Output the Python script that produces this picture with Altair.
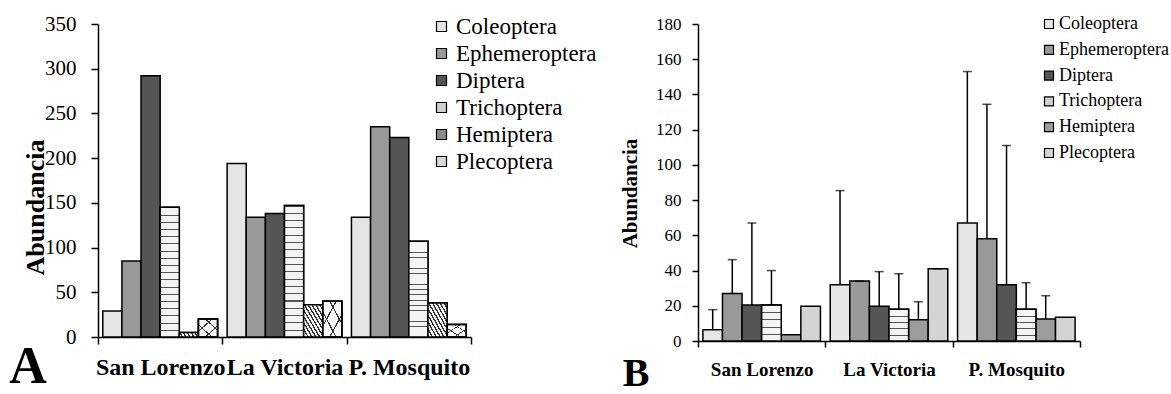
import altair as alt
import pandas as pd

sites = ["San Lorenzo", "La Victoria", "P. Mosquito"]
orders = ["Coleoptera", "Ephemeroptera", "Diptera", "Trichoptera", "Hemiptera", "Plecoptera"]

# A: total abundance per site, in the order of `orders`
total_san_lorenzo = [29, 85, 292, 145, 5, 20]
total_la_victoria = [194, 134, 138, 147, 36, 40]
total_p_mosquito = [134, 235, 223, 107, 38, 14]

# B: mean abundance and standard deviation per site (None = no error bar)
mean_san_lorenzo = [6.4, 27, 20.5, 20.5, 3.5, 19.7]
mean_la_victoria = [32, 34, 19.7, 18, 12, 41]
mean_p_mosquito = [67, 58, 32, 18, 12.5, 13.5]
sd_san_lorenzo = [11.4, 19.2, 46.5, 19.5, None, None]
sd_la_victoria = [53.4, 0, 19.7, 20.2, 10.3, 0]
sd_p_mosquito = [86, 76.4, 79, 15.1, 13.2, None]

rows_a = []
for site, vals in zip(sites, [total_san_lorenzo, total_la_victoria, total_p_mosquito]):
    for order, v in zip(orders, vals):
        rows_a.append({"site": site, "order": order, "total": v})
df_a = pd.DataFrame(rows_a)

rows_b = []
for site, means, sds in zip(
    sites,
    [mean_san_lorenzo, mean_la_victoria, mean_p_mosquito],
    [sd_san_lorenzo, sd_la_victoria, sd_p_mosquito],
):
    for order, m, s in zip(orders, means, sds):
        rows_b.append({"site": site, "order": order, "mean": m, "sd": s})
df_b = pd.DataFrame(rows_b)

SERIF = "'Liberation Serif', 'Times New Roman', 'DejaVu Serif', serif"


def stripe_fill(n, frac, line, bg, x1, y1, x2, y2):
    """Hard-stop linear gradient that reads as a hatch of n lines."""
    stops = []
    for k in range(n):
        a = k / n
        b = (k + frac) / n
        c = (k + 1) / n
        stops += [
            alt.GradientStop(color=line, offset=a),
            alt.GradientStop(color=line, offset=b),
            alt.GradientStop(color=bg, offset=b),
            alt.GradientStop(color=bg, offset=c),
        ]
    return alt.LinearGradient(gradient="linear", stops=stops, x1=x1, y1=y1, x2=x2, y2=y2)


CLEAR = "rgba(255,255,255,0)"


def panel(df, value_field, y_max, y_step, width, height, greys, sizes, legend_pos,
          letter, letter_pos, title_pos, brick_lines, hatch):
    x_enc = alt.X(
        "site:N",
        sort=sites,
        scale=alt.Scale(domain=sites, paddingInner=0, paddingOuter=0),
        axis=alt.Axis(
            title=None, labelAngle=0, tickBand="extent", tickSize=sizes["tick"],
            tickWidth=1.5, tickColor="black", domainColor="black", domainWidth=1.5,
            labelFont=SERIF, labelFontWeight="bold", labelFontSize=sizes["xlab"],
            labelColor="black", labelPadding=sizes["xpad"], labelOverlap=False,
        ),
    )
    off_enc = alt.XOffset(
        "order:N", sort=orders,
        scale=alt.Scale(domain=orders, paddingInner=0, paddingOuter=0.25),
    )
    y_axis = alt.Axis(
        title="Abundancia", values=list(range(0, y_max + 1, y_step)), grid=False,
        tickSize=sizes["tick"], tickWidth=1.5, tickColor="black",
        domainColor="black", domainWidth=1.5, labelOverlap=False, labelFlush=False,
        labelFont=SERIF, labelFontSize=sizes["ylab"], labelColor="black",
        labelPadding=sizes["ypad"],
        titleFont=SERIF, titleFontWeight="bold", titleFontSize=sizes["title"],
        titleColor="black", titleX=title_pos[0], titleY=title_pos[1],
        titleAlign="center", titleBaseline="alphabetic", titleAngle=270,
    )
    y_scale = alt.Scale(domain=[0, y_max], nice=False, zero=True)

    def y_of(field):
        return alt.Y(f"{field}:Q", scale=y_scale, axis=y_axis)

    base = alt.Chart(df).encode(x=x_enc, xOffset=off_enc, y=y_of(value_field))

    bars = base.mark_bar(stroke="black", strokeWidth=1.5).encode(
        color=alt.Color(
            "order:N",
            scale=alt.Scale(domain=orders, range=greys),
            legend=alt.Legend(
                title=None, orient="none", legendX=legend_pos[0], legendY=legend_pos[1],
                direction="vertical", symbolType="square", symbolSize=sizes["sym"],
                symbolStrokeColor="black", symbolStrokeWidth=1.2, symbolOpacity=1,
                labelFont=SERIF, labelFontSize=sizes["leg"], labelColor="black",
                labelOffset=sizes["legoff"], rowPadding=sizes["rowpad"], padding=0,
                labelLimit=300,
            ),
        )
    )

    layers = [bars]

    # brick-like horizontal lines on Trichoptera
    layers.append(
        base.transform_filter(alt.datum.order == "Trichoptera").mark_bar(
            stroke="black", strokeWidth=1.5,
            fill=stripe_fill(brick_lines, 0.14, "#555555", "#f4f4f4", 0, 0, 0, 1),
        )
    )
    if hatch:
        # diagonal hatch on Hemiptera, cross hatch on Plecoptera
        layers.append(
            base.transform_filter(alt.datum.order == "Hemiptera").mark_bar(
                stroke="black", strokeWidth=1.5,
                fill=stripe_fill(10, 0.4, "#333333", "#f4f4f4", 0, 1, 1, 0),
            )
        )
        layers.append(
            base.transform_filter(alt.datum.order == "Plecoptera").mark_bar(
                stroke="black", strokeWidth=1.5,
                fill=stripe_fill(3, 0.1, "#333333", "#f8f8f8", 0, 1, 1, 0),
            )
        )
        layers.append(
            base.transform_filter(alt.datum.order == "Plecoptera").mark_bar(
                stroke="black", strokeWidth=1.5,
                fill=stripe_fill(3, 0.1, "#333333", CLEAR, 0, 0, 1, 1),
            )
        )

    if value_field == "mean":
        err = base.transform_filter("isValid(datum.sd)").transform_calculate(
            upper="datum.mean + datum.sd"
        )
        layers.append(
            err.mark_rule(color="black", strokeWidth=1.5).encode(y2="upper:Q")
        )
        layers.append(
            err.mark_tick(color="black", thickness=1.5, size=9).encode(y=y_of("upper"))
        )

    layers.append(
        alt.Chart(pd.DataFrame({"t": [letter]})).mark_text(
            font=SERIF, fontWeight="bold", fontSize=sizes["letter"], color="black",
            align="center", baseline="alphabetic",
        ).encode(text="t:N", x=alt.value(letter_pos[0]), y=alt.value(letter_pos[1]))
    )

    return alt.layer(*layers).properties(width=width, height=height)


chart_a = panel(
    df_a, "total", 350, 50, 373, 313,
    greys=["#e4e4e4", "#999999", "#555555", "#d0d0d0", "#8a8a8a", "#d8d8d8"],
    sizes=dict(tick=7, xlab=24, xpad=11, ylab=21, ypad=15, title=26, sym=100,
               leg=23, legoff=3, rowpad=3.0, letter=52),
    legend_pos=(332, -9), letter="A", letter_pos=(-70, 359), title_pos=(-55, 183),
    brick_lines=18, hatch=True,
)

chart_b = panel(
    df_b, "mean", 180, 20, 382, 317,
    greys=["#e6e6e6", "#999999", "#555555", "#d0d0d0", "#9c9c9c", "#d4d4d4"],
    sizes=dict(tick=6, xlab=19, xpad=13, ylab=17, ypad=11, title=21, sym=81,
               leg=18, legoff=1, rowpad=7.8, letter=40),
    legend_pos=(342, -9), letter="B", letter_pos=(-62, 362), title_pos=(-62, 169),
    brick_lines=5, hatch=False,
)

chart = (
    alt.hconcat(chart_a, chart_b, spacing=22)
    .resolve_scale(color="independent", x="independent", y="independent", xOffset="independent")
    .resolve_legend(color="independent")
    .properties(padding={"left": 9, "top": 13, "right": 0, "bottom": 0}, background="white")
    .configure_view(stroke=None)
)

chart.save("out.html", embed_options={"renderer": "svg", "actions": False})
